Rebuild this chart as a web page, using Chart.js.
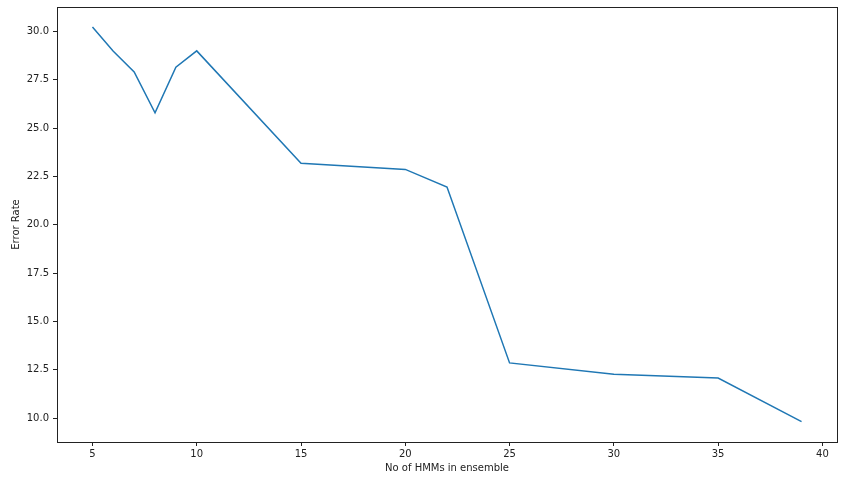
<!DOCTYPE html>
<html>
<head>
<meta charset="utf-8">
<script src="https://cdn.jsdelivr.net/npm/chart.js@4"></script>
<style>
  html, body { margin: 0; padding: 0; background: #fff; }
  #wrap { width: 846px; height: 483px; }
</style>
</head>
<body>
<div id="wrap"><canvas id="line-chart" width="846" height="483"></canvas></div>
<script>
const hmmCounts = [5, 6, 7, 8, 9, 10, 15, 20, 22, 25, 30, 35, 39];
const errorRates = [30.22, 28.97, 27.9, 25.79, 28.15, 28.99, 23.18, 22.86, 21.95, 12.85, 12.27, 12.07, 9.81];
const xTicks = [5, 10, 15, 20, 25, 30, 35, 40];
const yTicks = [10.0, 12.5, 15.0, 17.5, 20.0, 22.5, 25.0, 27.5, 30.0];

const tickFont = { family: 'DejaVu Sans', size: 10 };

// matplotlib draws a box round the axes
const boxPlugin = {
  id: 'box',
  afterDraw(chart) {
    const a = chart.chartArea;
    const ctx = chart.ctx;
    ctx.save();
    ctx.strokeStyle = '#222';
    ctx.lineWidth = 1;
    ctx.strokeRect(Math.round(a.left) + 0.5, Math.round(a.top) + 0.5,
      Math.round(a.right - a.left), Math.round(a.bottom - a.top));
    ctx.restore();
  }
};

const lineCTX = document.getElementById("line-chart");

new Chart(lineCTX, {
  type: 'line',
  data: {
    datasets: [
      {
        data: hmmCounts.map((x, i) => ({ x: x, y: errorRates[i] })),
        borderColor: '#1f77b4',
        borderWidth: 1.5,
        pointRadius: 0,
        tension: 0,
        fill: false
      }
    ]
  },
  options: {
    responsive: false,
    animation: false,
    layout: { padding: { top: 7, right: 9, left: 0, bottom: 0 } },
    plugins: {
      legend: { display: false },
      tooltip: { enabled: false }
    },
    scales: {
      x: {
        type: 'linear',
        min: 3.3,
        max: 40.7,
        afterBuildTicks: s => { s.ticks = xTicks.map(v => ({ value: v })); },
        afterFit: s => { s.height = 41; s.paddingLeft = 0; s.paddingRight = 0; },
        grid: { drawOnChartArea: false, drawTicks: true, tickLength: 4, color: '#222' },
        border: { display: false },
        ticks: { color: '#222', font: tickFont, padding: 2, maxRotation: 0 },
        title: {
          display: true,
          text: 'No of HMMs in ensemble',
          color: '#222',
          font: tickFont,
          padding: { top: 0, bottom: 9 }
        }
      },
      y: {
        type: 'linear',
        min: 8.76,
        max: 31.26,
        afterBuildTicks: s => { s.ticks = yTicks.map(v => ({ value: v })); },
        afterFit: s => { s.width = 57; s.paddingTop = 0; s.paddingBottom = 0; },
        grid: { drawOnChartArea: false, drawTicks: true, tickLength: 4, color: '#222' },
        border: { display: false },
        ticks: { color: '#222', font: tickFont, padding: 4, callback: v => v.toFixed(1) },
        title: {
          display: true,
          text: 'Error Rate',
          color: '#222',
          font: tickFont,
          padding: { top: 10, bottom: 0 }
        }
      }
    }
  },
  plugins: [boxPlugin]
});
</script>
</body>
</html>
